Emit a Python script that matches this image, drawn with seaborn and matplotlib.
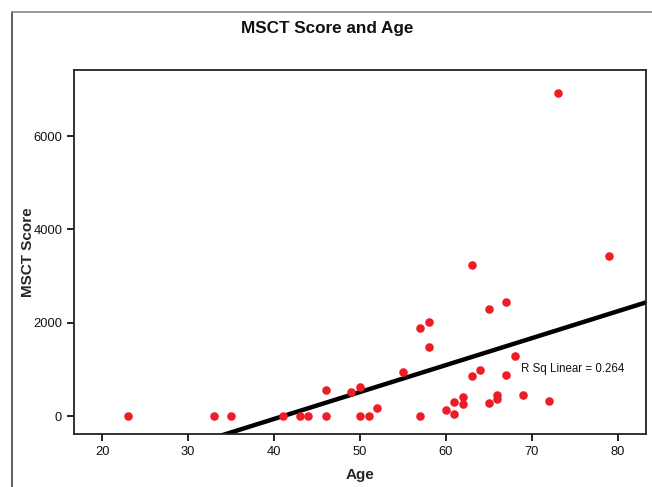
import numpy as np
import pandas as pd
import matplotlib.pyplot as plt
import matplotlib.lines as mlines
import seaborn as sns

age = [23, 33, 35, 41, 43, 44, 46, 46, 49, 50, 50, 51, 52, 55, 57, 57, 58, 58,
       60, 61, 61, 62, 62, 63, 63, 64, 65, 65, 66, 66, 67, 67, 68, 69, 72, 73, 79]
score = [0, 0, 0, 0, 0, 0, 570, 0, 527, 634, 0, 0, 185, 949, 1898, 0, 2019, 1491,
         128, 300, 49, 420, 263, 863, 3233, 991, 2291, 278, 456, 377, 2454, 878, 1285,
         456, 334, 6916, 3433]
r_sq_text = 'R Sq Linear = 0.264'

df = pd.DataFrame({'Age': age, 'MSCT Score': score})

sns.set_style('ticks')
plt.rcParams['font.family'] = ['Liberation Sans', 'DejaVu Sans']

fig = plt.figure(figsize=(6.52, 4.87), dpi=100)
ax = fig.add_axes([74 / 652, 1 - 434 / 487, 572 / 652, 364 / 487])
ax.set_xlim(16.7, 83.3)
ax.set_ylim(-380, 7415)

sns.regplot(data=df, x='Age', y='MSCT Score', ax=ax, ci=None, truncate=False,
            scatter_kws={'s': 38, 'color': '#ee1c25', 'linewidths': 0, 'alpha': 1, 'zorder': 3},
            line_kws={'color': 'black', 'linewidth': 3.2, 'zorder': 2})

ax.set_xticks([20, 30, 40, 50, 60, 70, 80])
ax.set_yticks([0, 2000, 4000, 6000])
ax.tick_params(direction='out', length=5, width=1.3, labelsize=9.3, colors='#111111')
for s in ax.spines.values():
    s.set_linewidth(1.3)
    s.set_color('#222222')

ax.set_xlabel('Age', fontsize=11, fontweight='bold', labelpad=7)
ax.set_ylabel('MSCT Score', fontsize=11, fontweight='bold', labelpad=-1)
ax.text(68.8, 1013, r_sq_text, fontsize=8.3, va='center', ha='left', color='#111111')

fig.text(327 / 652, 1 - 29 / 487, 'MSCT Score and Age', fontsize=12.3, fontweight='bold',
         ha='center', va='center', color='#111111')

# outer frame like the SPSS chart box
fig.add_artist(mlines.Line2D([12 / 652, 12 / 652], [0, 1 - 12 / 487], color='#444444', lw=1.2))
fig.add_artist(mlines.Line2D([12 / 652, 1], [1 - 12 / 487, 1 - 12 / 487], color='#888888', lw=1.2))

fig.savefig('out.png', dpi=100)
